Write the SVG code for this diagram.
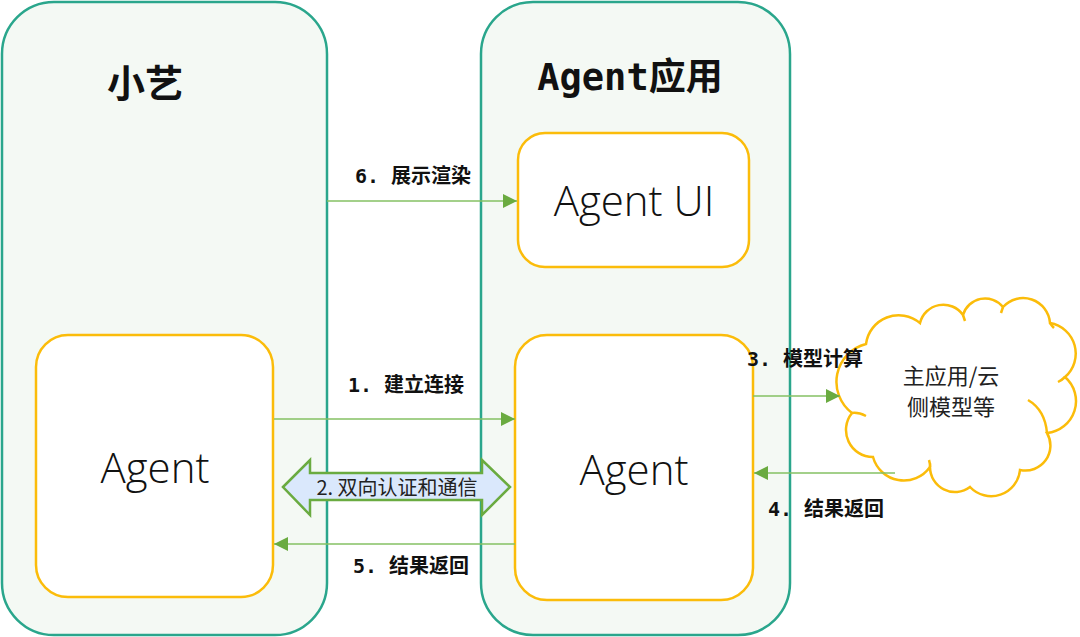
<svg xmlns="http://www.w3.org/2000/svg" width="1080" height="637" viewBox="0 0 1080 637">
<style>
.container{fill:#f4f9f4;stroke:#2aa68c;stroke-width:2.5}
.box{fill:#ffffff;stroke:#fbbc0a;stroke-width:2.5}
.title{font-family:"Noto Sans CJK SC",sans-serif;font-weight:bold;fill:#111}
.monotitle{font-family:"DejaVu Sans Mono","Noto Sans CJK SC",monospace;font-weight:bold;fill:#111}
.big{font-family:"Open Sans","Liberation Sans",sans-serif;font-size:42px;font-weight:300;fill:#111;text-anchor:middle}
.lbl{font-family:"DejaVu Sans Mono","Noto Sans CJK SC",monospace;font-size:20px;font-weight:bold;fill:#111}
.conn{stroke:#84c063;stroke-width:1.6;fill:none;marker-end:url(#ah)}
.cloudtxt{font-family:"Noto Sans CJK SC",sans-serif;font-size:22px;fill:#222;text-anchor:middle}
</style>
<defs>
<marker id="ah" markerUnits="userSpaceOnUse" markerWidth="16" markerHeight="16" viewBox="0 0 16 16" refX="15" refY="8" orient="auto">
<path d="M1,1 L15,8 L1,15 Z" fill="#6aab40"/>
</marker>
</defs>
<rect width="1080" height="637" fill="#ffffff"/>

<g id="xiaoyi">
<rect class="container" x="2" y="2" width="325" height="633" rx="52" ry="52"/>
<text class="title" x="145" y="97" font-size="38" text-anchor="middle">小艺</text>
</g>

<g id="agentapp">
<rect class="container" x="481" y="2" width="309" height="633" rx="52" ry="52"/>
<text class="monotitle" x="630" y="90" font-size="37" text-anchor="middle">Agent应用</text>
</g>

<g id="agentui">
<rect class="box" x="518" y="133" width="231" height="134" rx="27" ry="27"/>
<text class="big" x="634" y="216">Agent UI</text>
</g>

<g id="agent-left">
<rect class="box" x="36" y="335" width="237" height="262" rx="32" ry="32"/>
<text class="big" x="155" y="483">Agent</text>
</g>

<g id="agent-right">
<rect class="box" x="515" y="335" width="238" height="265" rx="32" ry="32"/>
<text class="big" x="634" y="485">Agent</text>
</g>

<g id="cloud">
<path d="M852,413 A39,39 0 0 1 866,344 A33,33 0 0 1 920,323 A24,24 0 0 1 963,315 A23,23 0 0 1 1003,307 A27,27 0 0 1 1050,323 A31,31 0 0 1 1065,377 A32,32 0 0 1 1047,433 A25,25 0 0 1 1020,470 A29,29 0 0 1 970,487 A25,25 0 0 1 930,467 A32,32 0 0 1 873,457 A27,27 0 0 1 852,413 Z" fill="#ffffff" stroke="#fbbc0a" stroke-width="2.5"/>
<path d="M852,413 Q858,412 866,416 M1028,400 Q1045,410 1047,433 M1065,377 Q1062,380 1058,382 M930,467 Q930,463 929,460 M963,315 Q964,318 965,321 M1003,307 Q1002,310 1001,313 M1050,323 Q1052,326 1054,328" fill="none" stroke="#fbbc0a" stroke-width="2.5"/>
<text class="cloudtxt" x="951" y="384">主应用/云</text>
<text class="cloudtxt" x="951" y="415">侧模型等</text>
</g>

<g id="connectors">
<line class="conn" x1="327" y1="201" x2="517" y2="201"/>
<line class="conn" x1="274" y1="419" x2="515" y2="419"/>
<line class="conn" x1="515" y1="544" x2="274" y2="544"/>
<line class="conn" x1="753" y1="396" x2="840" y2="396"/>
<line class="conn" x1="895" y1="473" x2="754" y2="473"/>
<polygon points="283,487 310,460 310,473 482,473 482,460 510,487 482,515 482,500 310,500 310,515" fill="#dae8fc" stroke="#6aab40" stroke-width="2.5" stroke-linejoin="miter"/>
<text x="397" y="495" font-family="'Noto Sans CJK SC',sans-serif" font-size="20" fill="#222" text-anchor="middle">2. 双向认证和通信</text>
<text class="lbl" x="355" y="183" xml:space="preserve">6. 展示渲染</text>
<text class="lbl" x="348" y="392" xml:space="preserve">1. 建立连接</text>
<text class="lbl" x="353" y="573" xml:space="preserve">5. 结果返回</text>
<text class="lbl" x="747" y="366" xml:space="preserve">3. 模型计算</text>
<text class="lbl" x="768" y="516" xml:space="preserve">4. 结果返回</text>
</g>
</svg>
